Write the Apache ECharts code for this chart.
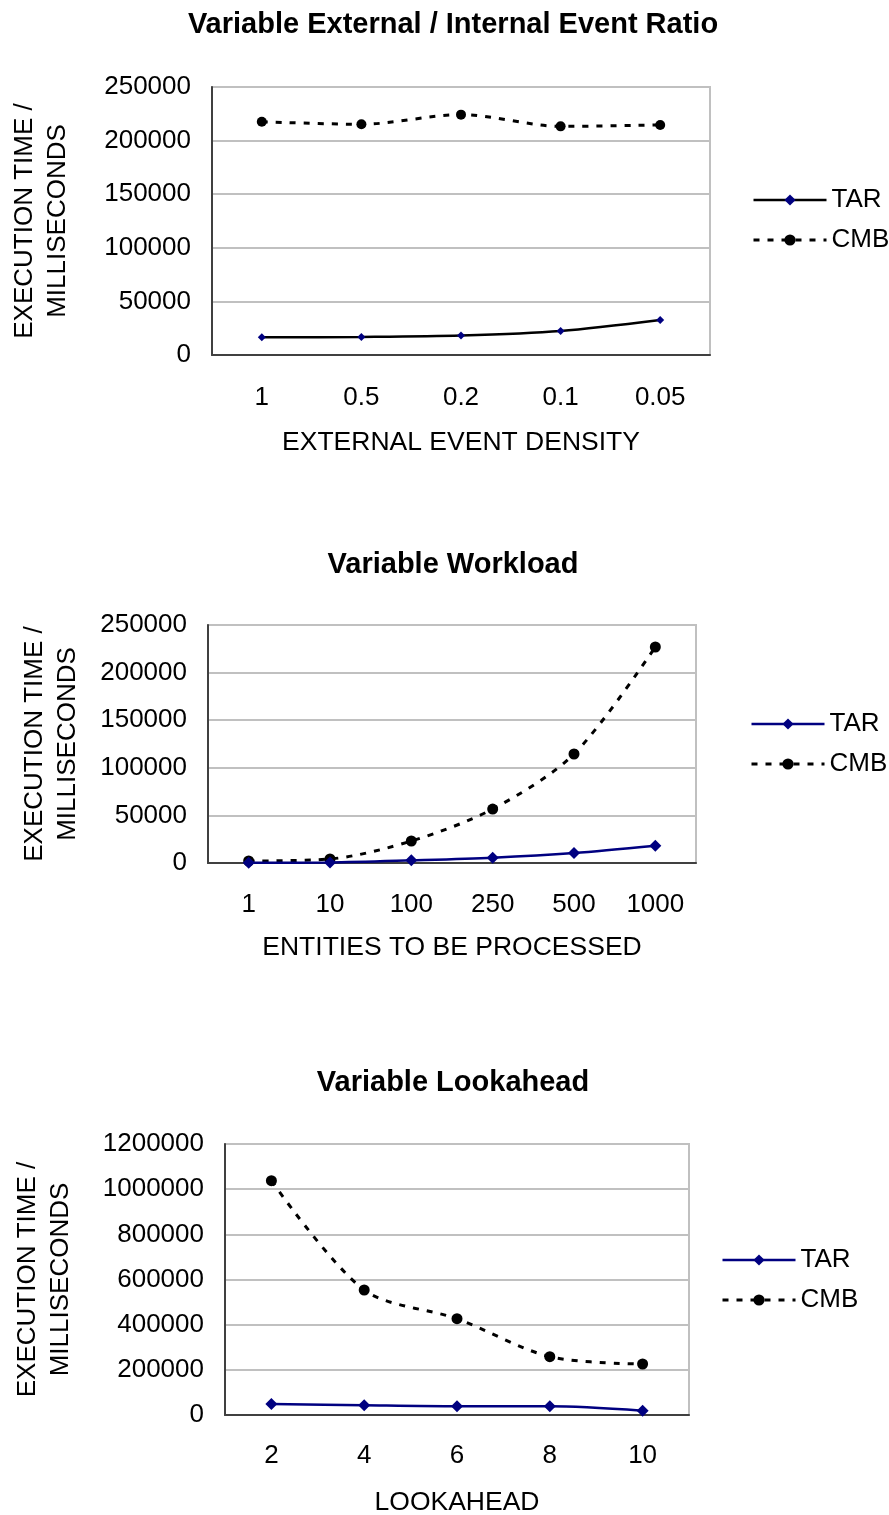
<!DOCTYPE html>
<html><head><meta charset="utf-8">
<script src="https://cdn.jsdelivr.net/npm/echarts@6/dist/echarts.min.js"></script>
<style>
html,body{margin:0;padding:0;background:#fff;}
.c{position:absolute;left:0;width:889px;}
</style></head>
<body>
<div id="c1" class="c" style="top:0;height:500px"></div>
<div id="c2" class="c" style="top:500px;height:500px"></div>
<div id="c3" class="c" style="top:1000px;height:515px"></div>
<script>
// Chart 1: Variable External / Internal Event Ratio
const cats1 = ['1', '0.5', '0.2', '0.1', '0.05'];
const tar1 = [16500, 16900, 18200, 22400, 32600];
const cmb1 = [217600, 215200, 224200, 213300, 214600];
// Chart 2: Variable Workload
const cats2 = ['1', '10', '100', '250', '500', '1000'];
const tar2 = [300, 600, 2800, 5600, 10500, 18200];
const cmb2 = [2100, 4200, 23100, 56700, 114500, 226900];
// Chart 3: Variable Lookahead
const cats3 = ['2', '4', '6', '8', '10'];
const tar3 = [48700, 42900, 38500, 38500, 19000];
const cmb3 = [1037500, 553500, 426400, 258100, 225800];

const titles = ['Variable External / Internal Event Ratio', 'Variable Workload', 'Variable Lookahead'];
const xNames = ['EXTERNAL EVENT DENSITY', 'ENTITIES TO BE PROCESSED', 'LOOKAHEAD'];
const yName = 'EXECUTION TIME /\nMILLISECONDS';

const FONT = '"Liberation Sans", Arial, sans-serif';

function build(cfg) {
  return {
    animation: false,
    textStyle: {fontFamily: FONT},
    title: {
      text: cfg.title, left: 448, top: cfg.titleTop, textAlign: 'center',
      textStyle: {fontFamily: FONT, fontSize: 29, fontWeight: 'bold', color: '#000'}
    },
    legend: {
      orient: 'vertical', left: cfg.legLeft, top: cfg.legTop,
      itemWidth: 73, itemHeight: 14, itemGap: 14,
      lineStyle: {width: 'inherit'},
      textStyle: {fontFamily: FONT, fontSize: 26, color: '#000', lineHeight: 26},
      data: ['TAR', 'CMB']
    },
    grid: {
      left: cfg.left, top: cfg.top, width: cfg.width, height: cfg.height,
      containLabel: false, outerBoundsMode: 'none',
      show: true, borderColor: '#c0c0c0', borderWidth: 2, backgroundColor: '#fff'
    },
    xAxis: {
      type: 'category', data: cfg.cats, boundaryGap: true,
      name: cfg.xName, nameLocation: 'middle', nameGap: cfg.xNameGap,
      nameTextStyle: {fontFamily: FONT, fontSize: 26.5, color: '#000'},
      axisLine: {lineStyle: {color: '#404040', width: 2}},
      axisTick: {show: false},
      axisLabel: {fontFamily: FONT, fontSize: 26, color: '#000', margin: cfg.xLabMargin},
      splitLine: {show: false}
    },
    yAxis: {
      type: 'value', min: 0, max: cfg.ymax, interval: cfg.yint,
      name: yName, nameLocation: 'middle', nameRotate: 90, nameGap: cfg.yNameGap,
      nameTextStyle: {fontFamily: FONT, fontSize: 26, color: '#000', lineHeight: 33, align: 'center'},
      axisLine: {show: true, lineStyle: {color: '#404040', width: 2}},
      axisTick: {show: false},
      axisLabel: {fontFamily: FONT, fontSize: 26, color: '#000', margin: 21,
                  formatter: v => String(v)},
      splitLine: {lineStyle: {color: '#c0c0c0', width: 2}}
    },
    series: [
      {
        name: 'TAR', type: 'line', data: cfg.tar, smooth: 0.3,
        symbol: 'diamond', symbolSize: cfg.tarSym,
        lineStyle: {color: cfg.tarLine, width: cfg.tarWidth, type: 'solid'},
        itemStyle: {color: '#000080', borderWidth: 0},
        z: 3
      },
      {
        name: 'CMB', type: 'line', data: cfg.cmb, smooth: 0.3,
        symbol: 'circle', symbolSize: cfg.cmbSym,
        lineStyle: {color: '#000', width: 3, type: [6, 8]},
        itemStyle: {color: '#000', borderWidth: 0},
        z: 2
      }
    ]
  };
}

const charts = [
  {id: 'c1', title: titles[0], titleTop: 5, cats: cats1, tar: tar1, cmb: cmb1, xName: xNames[0],
   left: 212, top: 87, width: 498, height: 268, ymax: 250000, yint: 50000,
   xNameGap: 74, xLabMargin: 30, yNameGap: 138, legLeft: 747, legTop: 182,
   tarLine: '#000', tarWidth: 2.5, tarSym: 8, cmbSym: 10},
  {id: 'c2', title: titles[1], titleTop: 45, cats: cats2, tar: tar2, cmb: cmb2, xName: xNames[1],
   left: 208, top: 125, width: 488, height: 238, ymax: 250000, yint: 50000,
   xNameGap: 71, xLabMargin: 29, yNameGap: 124, legLeft: 745, legTop: 206,
   tarLine: '#000080', tarWidth: 2.5, tarSym: 12, cmbSym: 11},
  {id: 'c3', title: titles[2], titleTop: 63, cats: cats3, tar: tar3, cmb: cmb3, xName: xNames[2],
   left: 225, top: 144, width: 464, height: 271, ymax: 1200000, yint: 200000,
   xNameGap: 74, xLabMargin: 28, yNameGap: 148, legLeft: 716, legTop: 242,
   tarLine: '#000080', tarWidth: 2.5, tarSym: 12, cmbSym: 11}
];

charts.forEach(cfg => {
  const ch = echarts.init(document.getElementById(cfg.id), null, {renderer: 'canvas'});
  ch.setOption(build(cfg));
});
</script>
</body></html>
